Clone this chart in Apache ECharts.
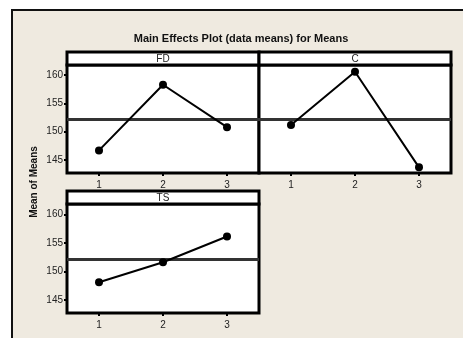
<!DOCTYPE html>
<html>
<head>
<meta charset="utf-8">
<script src="https://cdn.jsdelivr.net/npm/echarts@6/dist/echarts.min.js"></script>
<style>
html,body{margin:0;padding:0;background:#ffffff;}
#chart{width:463px;height:338px;}
</style>
</head>
<body>
<div id="chart"></div>
<script>
// ---- data ----
var levels = ['1', '2', '3'];
var fdMeans = [146.7, 158.3, 150.8];
var cMeans = [151.2, 160.6, 143.7];
var tsMeans = [148.1, 151.6, 156.1];
var grandMean = 152.2;
var yTicks = [145, 150, 155, 160];
var panelNames = ['FD', 'C', 'TS'];
var titleText = 'Main Effects Plot (data means) for Means';
var yName = 'Mean of Means';

var FONT = '"Liberation Sans", Arial, sans-serif';
var yMin = 142.7, yMax = 161.8;

var grids = [
  {left: 67, top: 65, width: 192, height: 108},
  {left: 259, top: 65, width: 192, height: 108},
  {left: 67, top: 204, width: 192, height: 109}
];
var seriesData = [fdMeans, cMeans, tsMeans];
var showYLabels = [true, false, true];

var option = {
  animation: false,
  backgroundColor: '#ffffff',
  grid: grids.map(function (g) {
    return {left: g.left, top: g.top, width: g.width, height: g.height,
      show: true, backgroundColor: '#ffffff', borderColor: '#000', borderWidth: 3, z: 2};
  }),
  xAxis: grids.map(function (g, i) {
    return {
      type: 'category', gridIndex: i, data: levels, boundaryGap: true,
      axisLine: {show: false},
      axisTick: {show: true, alignWithLabel: true, length: 3, lineStyle: {color: '#000', width: 2}},
      axisLabel: {show: true, margin: 7, fontSize: 10, fontFamily: FONT, color: '#222'},
      splitLine: {show: false}
    };
  }),
  yAxis: grids.map(function (g, i) {
    return {
      type: 'value', gridIndex: i, min: yMin, max: yMax,
      axisLine: {show: false},
      axisTick: {show: showYLabels[i], length: 3, customValues: yTicks, lineStyle: {color: '#000', width: 2}},
      axisLabel: {show: showYLabels[i], margin: 4, fontSize: 10, fontFamily: FONT, color: '#222', customValues: yTicks},
      splitLine: {show: false}
    };
  }),
  series: seriesData.map(function (d, i) {
    return {
      type: 'line', xAxisIndex: i, yAxisIndex: i, data: d,
      symbol: 'circle', symbolSize: 8,
      itemStyle: {color: '#000'},
      lineStyle: {color: '#000', width: 2},
      z: 5,
      markLine: {
        silent: true, symbol: 'none', label: {show: false},
        lineStyle: {color: '#333', width: 3, type: 'solid'},
        data: [{yAxis: grandMean}], z: 3
      }
    };
  }),
  graphic: (function () {
    var els = [];
    els.push({type: 'rect', z: -10, shape: {x: 12, y: 10, width: 480, height: 360},
      style: {fill: '#EFEAE0', stroke: '#111', lineWidth: 2}});
    els.push({type: 'text', z: 10, x: 241, y: 39,
      style: {text: titleText, fontFamily: FONT, fontWeight: 'bold', fontSize: 11, fill: '#111', align: 'center', verticalAlign: 'middle'}});
    els.push({type: 'text', z: 10, x: 34, y: 182, rotation: Math.PI / 2,
      style: {text: yName, fontFamily: FONT, fontWeight: 'bold', fontSize: 10, fill: '#111', align: 'center', verticalAlign: 'middle'}});
    grids.forEach(function (g, i) {
      els.push({type: 'rect', z: 10, shape: {x: g.left, y: g.top - 13, width: g.width, height: 13},
        style: {fill: '#ffffff', stroke: '#000', lineWidth: 3}});
      els.push({type: 'text', z: 11, x: g.left + g.width / 2, y: g.top - 6,
        style: {text: panelNames[i], fontFamily: FONT, fontSize: 10, fill: '#222', align: 'center', verticalAlign: 'middle'}});
    });
    return els;
  })()
};

var chart = echarts.init(document.getElementById('chart'), null, {renderer: 'canvas'});
chart.setOption(option);
</script>
</body>
</html>
